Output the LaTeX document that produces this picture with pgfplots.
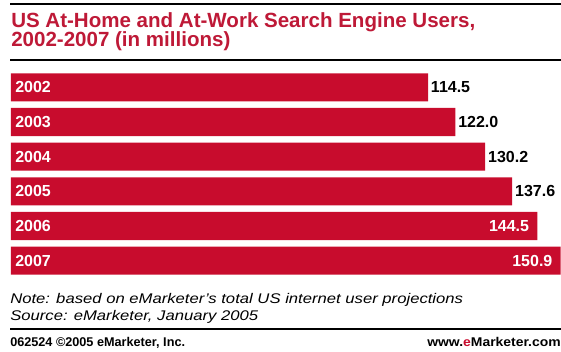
\documentclass[border=0pt]{standalone}
\usepackage{pgfplots}
\pgfplotsset{compat=1.18}
\usepackage{fontspec}
\setmainfont{Liberation Sans}
\definecolor{barred}{RGB}{200,12,45}
\definecolor{titlered}{RGB}{190,25,55}
\begin{document}
\begin{tikzpicture}[x=0.75pt,y=-0.75pt]
\path[use as bounding box] (0,0) rectangle (561,351);
\draw[line width=2pt] (10,4) -- (561,4);
\node[anchor=base west, inner sep=0, text=titlered, font=\bfseries\fontsize{15.4}{18}\selectfont] at (11,27) {US At-Home and At-Work Search Engine Users,};
\node[anchor=base west, inner sep=0, text=titlered, font=\bfseries\fontsize{15.4}{18}\selectfont] at (11,46) {2002-2007 (in millions)};
\draw[line width=1.5pt] (10,60) -- (561,60);
\begin{axis}[at={(8.25pt,-52.5pt)}, anchor=north west, scale only axis,
  width=412.5pt, height=156pt,
  xmin=0, xmax=151, ymin=-0.5, ymax=5.5, y dir=reverse,
  hide axis, xbar, bar width=0.81, bar shift=0pt,
  point meta=explicit symbolic, nodes near coords,
  every node near coord/.append style={font=\bfseries\fontsize{12}{14}\selectfont}]
\addplot[fill=barred, draw=none,
  every node near coord/.append style={anchor=west, text=black, inner sep=2pt}]
  coordinates {(114.5,0) [114.5] (122.0,1) [122.0] (130.2,2) [130.2] (137.6,3) [137.6]};
\addplot[fill=barred, draw=none,
  every node near coord/.append style={anchor=east, text=white, inner sep=2pt, xshift=-4pt}]
  coordinates {(144.5,4) [144.5] (150.9,5) [150.9]};
\begin{scope}[every node/.style={anchor=west, text=white, inner sep=0pt, xshift=3pt, font=\bfseries\fontsize{12}{14}\selectfont}]
\node at (axis cs:0,0) {2002};
\node at (axis cs:0,1) {2003};
\node at (axis cs:0,2) {2004};
\node at (axis cs:0,3) {2005};
\node at (axis cs:0,4) {2006};
\node at (axis cs:0,5) {2007};
\end{scope}
\end{axis}
\node[anchor=base west, inner sep=0, font=\itshape\fontsize{10.5}{12}\selectfont] at (10,303) {\scalebox{1.19}[1]{Note: based on eMarketer's total US internet user projections}};
\node[anchor=base west, inner sep=0, font=\itshape\fontsize{10.5}{12}\selectfont] at (10,320) {\scalebox{1.19}[1]{Source: eMarketer, January 2005}};
\draw[line width=2pt] (10,329) -- (561,329);
\node[anchor=base west, inner sep=0, font=\bfseries\fontsize{9.5}{11}\selectfont] at (10,346) {062524 \textcopyright 2005 eMarketer, Inc.};
\node[anchor=base east, inner sep=0, font=\bfseries\fontsize{9.5}{11}\selectfont] at (561,346) {\scalebox{1.1}[1]{www.\textcolor{barred}{e}Marketer.com}};
\end{tikzpicture}
\end{document}
